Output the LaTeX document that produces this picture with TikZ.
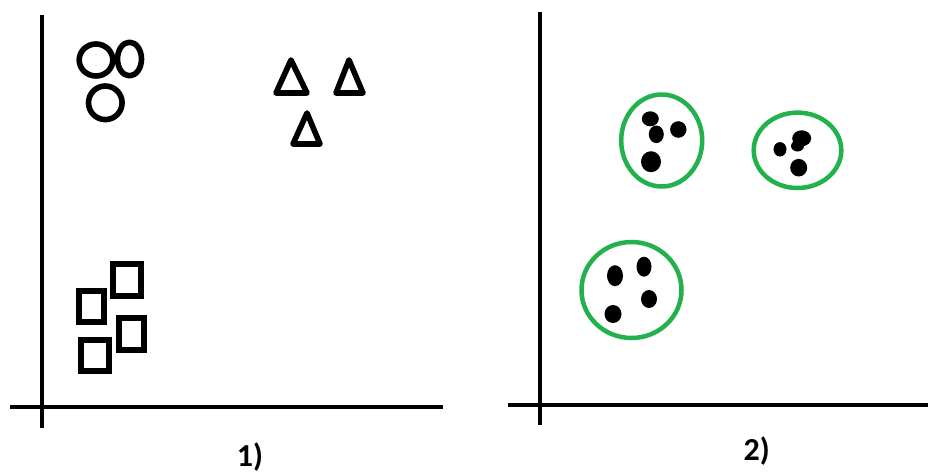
\documentclass[tikz,border=0pt]{standalone}
\usepackage{fontspec}
\setmainfont{Carlito}
\begin{document}
\begin{tikzpicture}[x=1pt,y=-1pt,
  axis/.style={line width=4.5pt},
  shp/.style={line width=5.6pt, line join=round},
  sq/.style={line width=6pt},
  grp/.style={draw={rgb,255:red,34;green,177;blue,76}, line width=4.5pt},
  blob/.style={fill=black},
  lbl/.style={font=\bfseries\fontsize{32}{32}\selectfont, inner sep=0pt}]
\useasboundingbox[fill=white] (0,0) rectangle (931,474);
% left panel axes
\draw[axis] (42,15) -- (42,428);
\draw[axis] (10,407) -- (443,407);
% circles
\draw[shp] (96,60) ellipse [x radius=16.8pt, y radius=16pt];
\draw[shp] (129.5,59) ellipse [x radius=12pt, y radius=16.8pt];
\draw[shp] (105.3,102.8) circle (16.8pt);
% triangles
\draw[shp] (291,60) -- (276,93) -- (307,93) -- cycle;
\draw[shp] (349,60) -- (336,93) -- (363,93) -- cycle;
\draw[shp] (307,113) -- (293,144) -- (320,144) -- cycle;
% squares
\draw[sq] (113,264) rectangle (140.5,296);
\draw[sq] (79,290.5) rectangle (103.5,322);
\draw[sq] (119,318) rectangle (144,349.5);
\draw[sq] (80.5,339.5) rectangle (108.5,371);
\node[lbl] (l1) at (250,457) {1)};
% right panel axes
\draw[axis] (540,12) -- (540,425);
\draw[axis] (508,405) -- (928,405);
% clusters
\draw[grp] (661.7,140.5) ellipse [x radius=40.5pt, y radius=46pt];
\draw[grp] (797.5,150.3) ellipse [x radius=43.8pt, y radius=37.7pt];
\draw[grp] (631.5,290) ellipse [x radius=50pt, y radius=48pt];
% dots cluster 1
\fill[blob] (650.3,118.8) ellipse [x radius=8.5pt, y radius=7.5pt];
\fill[blob] (656.3,134.3) ellipse [x radius=7.5pt, y radius=8.8pt];
\fill[blob] (678.3,129.5) ellipse [x radius=8.2pt, y radius=8.3pt];
\fill[blob] (651,161.7) ellipse [x radius=10pt, y radius=10.5pt];
% dots cluster 2
\fill[blob] (780,149.3) ellipse [x radius=6.5pt, y radius=7.2pt];
\fill[blob] (801.7,138.3) ellipse [x radius=9.5pt, y radius=8pt];
\fill[blob] (797.5,146) ellipse [x radius=6.5pt, y radius=5.5pt];
\fill[blob] (798.7,167.7) ellipse [x radius=8.5pt, y radius=8.8pt];
% dots cluster 3
\fill[blob] (615,275.7) ellipse [x radius=8pt, y radius=10.5pt];
\fill[blob] (644,266.7) ellipse [x radius=7.5pt, y radius=10pt];
\fill[blob] (649,299) ellipse [x radius=8pt, y radius=9pt];
\fill[blob] (613,314) ellipse [x radius=8.5pt, y radius=9pt];
\node[lbl] (l2) at (756.7,451) {2)};
\end{tikzpicture}
\end{document}
